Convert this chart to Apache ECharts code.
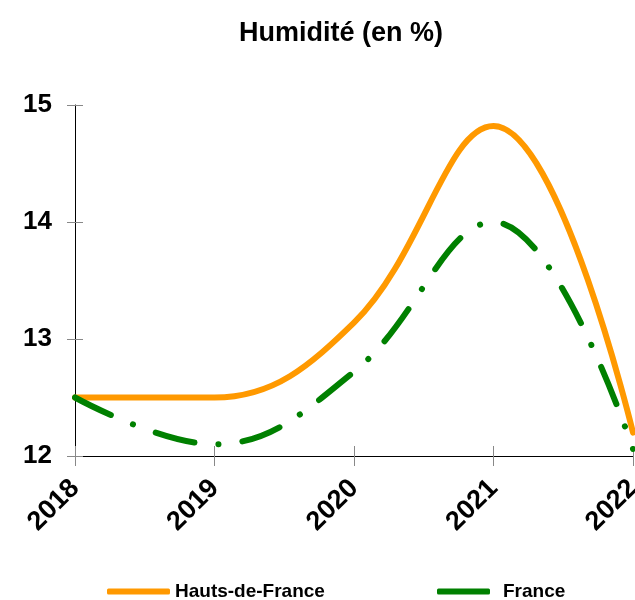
<!DOCTYPE html>
<html>
<head>
<meta charset="utf-8">
<script src="https://cdn.jsdelivr.net/npm/echarts@6/dist/echarts.min.js"></script>
<style>
  html, body { margin: 0; padding: 0; background: #fff; }
  #chart { width: 635px; height: 600px; }
</style>
</head>
<body>
<div id="chart"></div>
<script>
// années
var years = ['2018', '2019', '2020', '2021', '2022']
// humidité (en %)
var hautsDeFrance = [12.5, 12.5, 13.14, 14.82, 12.2]
var france = [12.5, 12.1, 12.72, 14.0, 12.06]

var chart = echarts.init(document.getElementById('chart'))
var fontFamily = '"Liberation Sans", Arial, sans-serif'

chart.setOption({
  animation: false,
  color: ['#FF9900', '#008000'],
  textStyle: { fontFamily: fontFamily },
  title: {
    text: 'Humidité (en %)',
    left: 234,
    top: 15,
    textStyle: { fontSize: 27, fontWeight: 'bold', color: '#000' }
  },
  legend: [
    {
      top: 577,
      left: 102,
      itemWidth: 63,
      itemHeight: 6,
      icon: 'roundRect',
      itemStyle: { borderWidth: 0 },
      textStyle: { fontSize: 19, fontWeight: 'bold', color: '#000' },
      data: ['Hauts-de-France']
    },
    {
      top: 577,
      left: 432,
      itemWidth: 53,
      itemHeight: 6,
      icon: 'roundRect',
      itemStyle: { borderWidth: 0, color: '#008000' },
      textStyle: { fontSize: 19, fontWeight: 'bold', color: '#000', padding: [0, 0, 0, 8] },
      data: ['France']
    }
  ],
  grid: { left: 75, right: 2, top: 105, bottom: 144, outerBoundsMode: 'none' },
  xAxis: [
    {
      type: 'category',
      data: years,
      boundaryGap: false,
      axisLine: { lineStyle: { color: '#000', width: 1 } },
      axisTick: { show: true, length: 10, lineStyle: { color: '#888' } },
      axisLabel: { rotate: 45, fontSize: 27, fontWeight: 'bold', color: '#000', margin: 28 }
    },
    {
      type: 'category',
      data: years,
      boundaryGap: false,
      position: 'bottom',
      axisLine: { show: false },
      axisTick: { show: true, inside: true, length: 10, lineStyle: { color: '#888' } },
      axisLabel: { show: false }
    }
  ],
  yAxis: [
    {
      type: 'value',
      min: 12,
      max: 15,
      interval: 1,
      splitLine: { show: false },
      axisLine: { show: true, lineStyle: { color: '#000', width: 1 } },
      axisTick: { show: true, length: 8, lineStyle: { color: '#888' } },
      axisLabel: { fontSize: 26, fontWeight: 'bold', color: '#000', margin: 23 }
    },
    {
      type: 'value',
      min: 12,
      max: 15,
      interval: 1,
      position: 'left',
      splitLine: { show: false },
      axisLine: { show: false },
      axisTick: { show: true, inside: true, length: 8, lineStyle: { color: '#888' } },
      axisLabel: { show: false }
    }
  ],
  series: [
    {
      name: 'Hauts-de-France',
      type: 'line',
      data: hautsDeFrance,
      smooth: 0.4,
      symbol: 'none',
      lineStyle: { width: 6, color: '#FF9900', cap: 'round' }
    },
    {
      name: 'France',
      type: 'line',
      data: france,
      smooth: 0.4,
      symbol: 'none',
      lineStyle: { width: 6, color: '#008000', type: [40, 24, 0.1, 24], cap: 'round' }
    }
  ]
})
</script>
</body>
</html>
